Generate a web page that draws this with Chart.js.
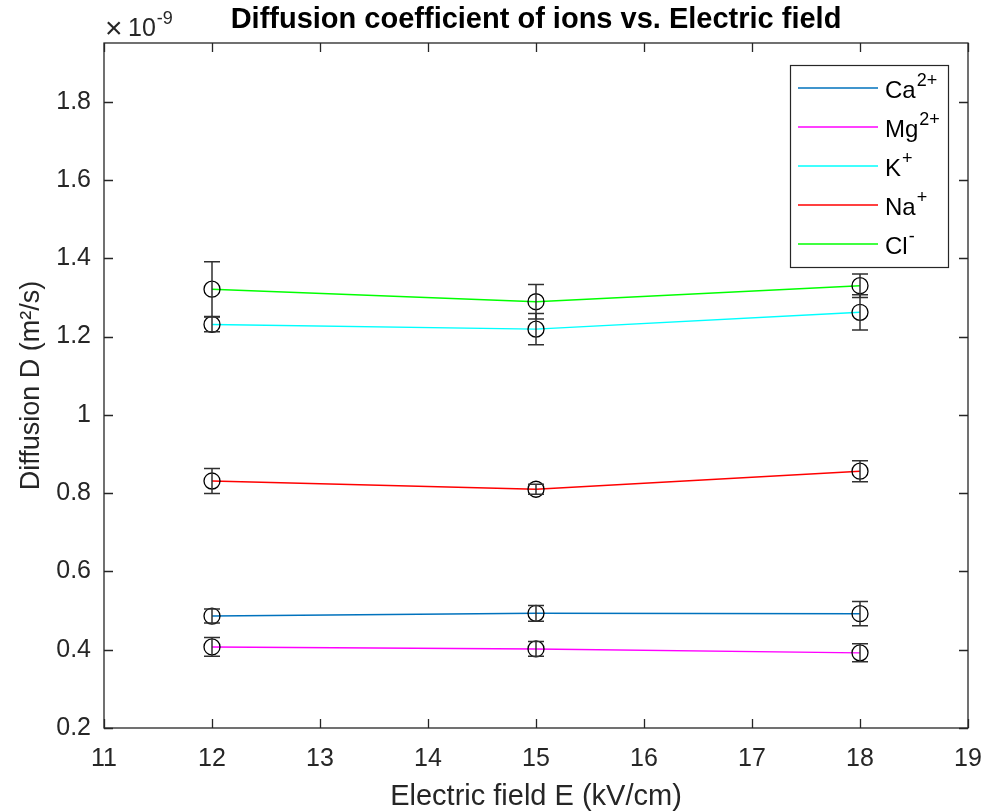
<!DOCTYPE html>
<html><head><meta charset="utf-8">
<script src="https://cdn.jsdelivr.net/npm/chart.js@4"></script>
<style>html,body{margin:0;padding:0;background:#fff}#wrap{width:986px;height:812px;position:relative}</style>
</head><body><div id="wrap"><canvas id="c" width="986" height="812"></canvas></div>
<script>
// ---- data ----
const fieldE = [12, 15, 18];
const ionNames = ["Ca", "Mg", "K", "Na", "Cl"];
const ionCharges = ["2+", "2+", "+", "+", "-"];
const caD = [0.486, 0.493, 0.492];
const caErr = [0.018, 0.020, 0.031];
const mgD = [0.407, 0.402, 0.392];
const mgErr = [0.024, 0.019, 0.023];
const kD = [1.231, 1.219, 1.262];
const kErr = [0.019, 0.040, 0.045];
const naD = [0.831, 0.810, 0.856];
const naErr = [0.032, 0.013, 0.027];
const clD = [1.321, 1.289, 1.330];
const clErr = [0.070, 0.044, 0.030];
const xTicks = [11, 12, 13, 14, 15, 16, 17, 18, 19];
const yTicks = [0.2, 0.4, 0.6, 0.8, 1.0, 1.2, 1.4, 1.6, 1.8];
const yTickLabels = ["0.2", "0.4", "0.6", "0.8", "1", "1.2", "1.4", "1.6", "1.8"];
const titleText = "Diffusion coefficient of ions vs. Electric field";
const xTitle = "Electric field E (kV/cm)";
const yTitle = "Diffusion D (m\u00B2/s)";

const seriesVals = [caD, mgD, kD, naD, clD];
const seriesErr = [caErr, mgErr, kErr, naErr, clErr];
const seriesColors = ["#0072BD", "#FF00FF", "#00FFFF", "#FF0000", "#00FF00"];
const supMap = {"2+": "\u00B2\u207A", "+": "\u207A", "-": "\u207B"};

const FONT = "'Liberation Sans', Arial, Helvetica, sans-serif";
const AX = "#262626";

const datasets = seriesVals.map((vals, i) => ({
  label: ionNames[i] + supMap[ionCharges[i]],
  data: fieldE.map((x, j) => ({x: x, y: vals[j]})),
  errors: seriesErr[i],
  borderColor: seriesColors[i],
  borderWidth: 1.4,
  backgroundColor: "transparent",
  pointRadius: 8,
  pointHoverRadius: 8,
  pointBorderColor: "#000",
  pointBackgroundColor: "transparent",
  pointBorderWidth: 1.3,
  tension: 0,
  fill: false
}));

const errorBars = {
  id: "errorBars",
  afterDatasetsDraw(chart) {
    const {ctx, scales: {x, y}} = chart;
    ctx.save();
    ctx.strokeStyle = "#303030";
    ctx.lineWidth = 1.5;
    chart.data.datasets.forEach(ds => {
      ds.data.forEach((p, j) => {
        const e = ds.errors[j];
        const px = x.getPixelForValue(p.x);
        const yt = y.getPixelForValue(p.y + e);
        const yb = y.getPixelForValue(p.y - e);
        ctx.beginPath();
        ctx.moveTo(px, yt); ctx.lineTo(px, yb);
        ctx.moveTo(px - 8, yt); ctx.lineTo(px + 8, yt);
        ctx.moveTo(px - 8, yb); ctx.lineTo(px + 8, yb);
        ctx.stroke();
      });
    });
    ctx.restore();
  }
};

const frame = {
  id: "frame",
  afterDraw(chart) {
    const {ctx, chartArea: a, scales: {x, y}} = chart;
    ctx.save();
    ctx.strokeStyle = AX;
    ctx.lineWidth = 1.3;
    ctx.strokeRect(a.left, a.top, a.right - a.left, a.bottom - a.top);
    const tl = 9;
    ctx.beginPath();
    x.ticks.forEach(t => {
      const px = Math.round(x.getPixelForValue(t.value)) + 0.5;
      ctx.moveTo(px, a.bottom); ctx.lineTo(px, a.bottom - tl);
      ctx.moveTo(px, a.top); ctx.lineTo(px, a.top + tl);
    });
    y.ticks.forEach(t => {
      const py = Math.round(y.getPixelForValue(t.value)) + 0.5;
      ctx.moveTo(a.left, py); ctx.lineTo(a.left + tl, py);
      ctx.moveTo(a.right, py); ctx.lineTo(a.right - tl, py);
    });
    ctx.stroke();

    // exponent label
    ctx.fillStyle = AX;
    ctx.textBaseline = "alphabetic";
    ctx.textAlign = "left";
    ctx.font = "30px " + FONT;
    ctx.fillText("\u00D7", a.left + 1, 38);
    ctx.font = "25px " + FONT;
    ctx.fillText("10", a.left + 24, 36);
    const w10 = ctx.measureText("10").width;
    ctx.font = "18px " + FONT;
    ctx.fillText("-9", a.left + 24 + w10 + 1, 24);

    // title
    ctx.fillStyle = "#000";
    ctx.textAlign = "center";
    ctx.font = "bold 29px " + FONT;
    ctx.fillText(titleText, (a.left + a.right) / 2, 28);

    // axis titles
    ctx.fillStyle = AX;
    ctx.font = "29px " + FONT;
    ctx.fillText(xTitle, (a.left + a.right) / 2, 805);
    ctx.save();
    ctx.translate(39, (a.top + a.bottom) / 2);
    ctx.rotate(-Math.PI / 2);
    ctx.font = "27px " + FONT;
    ctx.fillText(yTitle, 0, 0);
    ctx.restore();

    // legend
    const lx = 790, ly = 65, lw = 158, lh = 202;
    ctx.fillStyle = "#fff";
    ctx.fillRect(lx, ly, lw, lh);
    ctx.strokeStyle = AX;
    ctx.lineWidth = 1.2;
    ctx.strokeRect(lx + 0.5, ly + 0.5, lw, lh);
    chart.data.datasets.forEach((ds, i) => {
      const cy = 88 + i * 39;
      ctx.strokeStyle = ds.borderColor;
      ctx.lineWidth = 1.4;
      ctx.beginPath();
      ctx.moveTo(798, cy); ctx.lineTo(878, cy);
      ctx.stroke();
      ctx.fillStyle = "#000";
      ctx.textAlign = "left";
      ctx.font = "24px " + FONT;
      ctx.fillText(ionNames[i], 885, cy + 10);
      const w = ctx.measureText(ionNames[i]).width;
      ctx.font = "18px " + FONT;
      ctx.fillText(ionCharges[i], 885 + w + 1, cy - 2);
    });
    ctx.restore();
  }
};

new Chart(document.getElementById("c"), {
  type: "line",
  data: {datasets: datasets},
  options: {
    responsive: false,
    animation: false,
    events: [],
    layout: {padding: {top: 43, right: 18, left: 0, bottom: 0}},
    plugins: {legend: {display: false}, title: {display: false}, tooltip: {enabled: false}},
    scales: {
      x: {
        type: "linear", min: 11, max: 19,
        afterBuildTicks: s => { s.ticks = xTicks.map(v => ({value: v})); },
        afterFit: s => { s.height = 84; s.paddingLeft = 0; s.paddingRight = 0; },
        grid: {display: false, drawTicks: false},
        border: {display: false},
        ticks: {color: AX, padding: 16, font: {size: 25, family: FONT}, maxRotation: 0, autoSkip: false}
      },
      y: {
        type: "linear", min: 0.2, max: 1.95,
        afterBuildTicks: s => { s.ticks = yTicks.map(v => ({value: v})); },
        afterFit: s => { s.width = 104; s.paddingTop = 0; s.paddingBottom = 0; },
        grid: {display: false, drawTicks: false},
        border: {display: false},
        ticks: {color: AX, padding: 13, font: {size: 25, family: FONT}, autoSkip: false,
          callback: (v, i) => yTickLabels[i]}
      }
    }
  },
  plugins: [errorBars, frame]
});
</script></body></html>
